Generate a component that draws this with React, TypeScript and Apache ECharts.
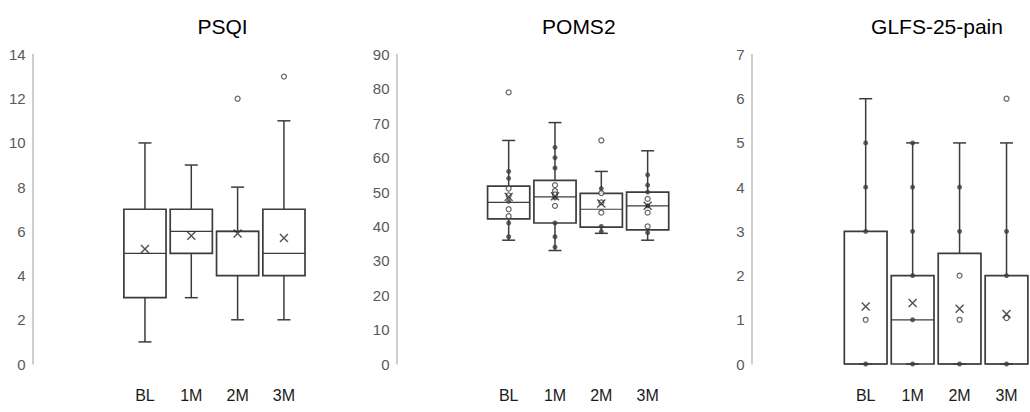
import React, { useEffect, useRef } from "react";
import * as echarts from "echarts";

const categories = ["BL", "1M", "2M", "3M"];
const titles = ["PSQI", "POMS2", "GLFS-25-pain"];

// [min, q1, median, q3, max] per category
const psqiBox = [
  [1, 3, 5, 7, 10],
  [3, 5, 6, 7, 9],
  [2, 4, 6, 6, 8],
  [2, 4, 5, 7, 11],
];
const psqiMean = [5.2, 5.8, 5.9, 5.7];
const psqiFilled: number[][] = [[], [], [], []];
const psqiHollow: number[][] = [[], [], [12], [13]];

const pomsBox = [
  [36, 42.2, 47, 51.7, 65],
  [33, 41, 48.6, 53.4, 70.2],
  [38, 39.8, 45, 49.6, 56],
  [36, 39, 46, 50, 62],
];
const pomsMean = [48.6, 48.8, 46.7, 46.0];
const pomsFilled = [
  [56, 54, 47.3, 41, 37],
  [63, 60, 57, 48.3, 41, 37, 34],
  [51, 40, 38.5],
  [55, 52, 50, 46, 38.2],
];
const pomsHollow = [
  [79, 51, 49, 45, 43],
  [52, 50.3, 49.3, 46],
  [65, 49.7, 47, 44],
  [48, 44, 40],
];

const glfsBox = [
  [0, 0, 0, 3, 6],
  [0, 0, 1, 2, 5],
  [0, 0, 0, 2.5, 5],
  [0, 0, 0, 2, 5],
];
const glfsMean = [1.3, 1.38, 1.25, 1.13];
const glfsFilled = [
  [0, 3, 4, 5],
  [0, 1, 2, 3, 4, 5],
  [0, 3, 4],
  [0, 2, 3],
];
const glfsHollow = [[1], [], [2, 1], [1.04, 6]];

const yMax = [14, 90, 7];
const yInterval = [2, 10, 1];

const panels = [
  { box: psqiBox, mean: psqiMean, filled: psqiFilled, hollow: psqiHollow },
  { box: pomsBox, mean: pomsMean, filled: pomsFilled, hollow: pomsHollow },
  { box: glfsBox, mean: glfsMean, filled: glfsFilled, hollow: glfsHollow },
];

// layout (pixels)
const gridLeft = [121.8, 485.5, 842.2];
const gridWidth = [185.3, 185.3, 189.2];
const axisX = [32.7, 396.5, 751.7];
const titleX = [217.5, 573.8, 932];

const DARK = "#3c3c3c";
const FONT = "Liberation Sans, Arial, sans-serif";

function pairs(arr: number[][]) {
  const out: number[][] = [];
  arr.forEach((vals, i) => vals.forEach((v) => out.push([i, v])));
  return out;
}

function renderBox(params: any, api: any) {
  const x = api.value(0);
  const lo = api.coord([x, api.value(1)]);
  const q1 = api.coord([x, api.value(2)]);
  const med = api.coord([x, api.value(3)]);
  const q3 = api.coord([x, api.value(4)]);
  const hi = api.coord([x, api.value(5)]);
  const band = api.size([1, 0])[0];
  const bw = band * 0.91;
  const cap = 13;
  const cx = lo[0];
  const ls = { stroke: DARK, lineWidth: 1.5 };
  return {
    type: "group",
    children: [
      { type: "line", shape: { x1: cx, y1: q3[1], x2: cx, y2: hi[1] }, style: ls },
      { type: "line", shape: { x1: cx - cap / 2, y1: hi[1], x2: cx + cap / 2, y2: hi[1] }, style: ls },
      { type: "line", shape: { x1: cx, y1: q1[1], x2: cx, y2: lo[1] }, style: ls },
      { type: "line", shape: { x1: cx - cap / 2, y1: lo[1], x2: cx + cap / 2, y2: lo[1] }, style: ls },
      {
        type: "rect",
        shape: { x: cx - bw / 2, y: q3[1], width: bw, height: q1[1] - q3[1] },
        style: { fill: "none", stroke: DARK, lineWidth: 1.7 },
      },
      {
        type: "line",
        shape: { x1: cx - bw / 2, y1: med[1], x2: cx + bw / 2, y2: med[1] },
        style: { stroke: DARK, lineWidth: 1.2 },
      },
    ],
  };
}

export default function App() {
  const ref = useRef<HTMLDivElement>(null);
  useEffect(() => {
    if (!ref.current) return;
    const chart = echarts.init(ref.current, undefined, { renderer: "svg" });
    const grid: any[] = [];
    const xAxis: any[] = [];
    const yAxis: any[] = [];
    const series: any[] = [];
    const title: any[] = [];
    panels.forEach((p, k) => {
      grid.push({ left: gridLeft[k], width: gridWidth[k], top: 54.5, bottom: 48 });
      title.push({
        text: titles[k],
        left: titleX[k],
        top: 11,
        textAlign: "center",
        textStyle: { fontFamily: FONT, fontSize: 21, fontWeight: "normal", color: "#000" },
      });
      xAxis.push({
        type: "category",
        gridIndex: k,
        data: categories,
        axisLine: { show: false },
        axisTick: { show: false },
        axisLabel: { fontFamily: FONT, fontSize: 16, color: "#1a1a1a", margin: 23 },
        splitLine: { show: false },
      });
      yAxis.push({
        type: "value",
        gridIndex: k,
        min: 0,
        max: yMax[k],
        interval: yInterval[k],
        offset: gridLeft[k] - axisX[k],
        axisLine: { show: true, lineStyle: { color: "#bfbfbf", width: 1.5 } },
        axisTick: { show: false },
        splitLine: { show: false },
        axisLabel: { fontFamily: FONT, fontSize: 15, color: "#595959", margin: 7 },
      });
      series.push({
        type: "custom",
        xAxisIndex: k,
        yAxisIndex: k,
        renderItem: renderBox,
        encode: { x: 0, y: [1, 2, 3, 4, 5] },
        data: p.box.map((b, i) => [i, ...b]),
        z: 2,
      });
      series.push({
        type: "scatter",
        xAxisIndex: k,
        yAxisIndex: k,
        symbol: "circle",
        symbolSize: 5,
        itemStyle: { color: DARK },
        data: pairs(p.filled),
        z: 3,
      });
      series.push({
        type: "scatter",
        xAxisIndex: k,
        yAxisIndex: k,
        symbol: "circle",
        symbolSize: 5,
        itemStyle: { color: "#ffffff", borderColor: DARK, borderWidth: 1.2 },
        data: pairs(p.hollow),
        z: 4,
      });
      series.push({
        type: "scatter",
        xAxisIndex: k,
        yAxisIndex: k,
        symbol: "path://M0,0L10,10M10,0L0,10",
        symbolSize: 8,
        symbolKeepAspect: true,
        itemStyle: { color: "transparent", borderColor: "#262626", borderWidth: 1.4 },
        data: p.mean.map((m, i) => [i, m]),
        z: 5,
      });
    });
    chart.setOption({
      animation: false,
      backgroundColor: "#ffffff",
      title,
      grid,
      xAxis,
      yAxis,
      series,
    });
    return () => chart.dispose();
  }, []);
  return (
    <div
      ref={ref}
      style={{ position: "fixed", left: 0, top: 0, width: 1030, height: 412, background: "#fff" }}
    />
  );
}
